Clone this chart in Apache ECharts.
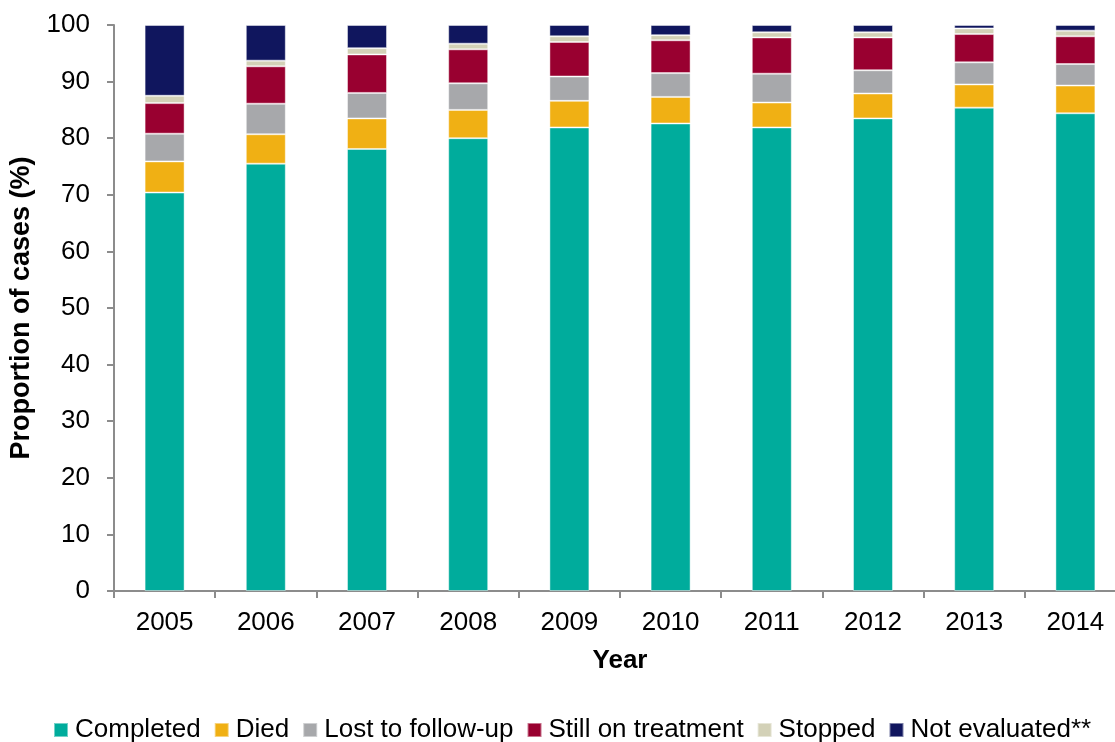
<!DOCTYPE html>
<html>
<head>
<meta charset="utf-8">
<script src="https://cdn.jsdelivr.net/npm/echarts@6/dist/echarts.min.js"></script>
<style>html,body{margin:0;padding:0;background:#fff;}#c{width:1115px;height:742px;}</style>
</head>
<body>
<div id="c"></div>
<script>
var years = ['2005','2006','2007','2008','2009','2010','2011','2012','2013','2014'];
var completed = [70.4, 75.5, 78.1, 80.0, 81.9, 82.6, 81.9, 83.5, 85.4, 84.4];
var died = [5.5, 5.2, 5.4, 5.0, 4.7, 4.7, 4.4, 4.4, 4.1, 4.9];
var lost = [4.9, 5.4, 4.5, 4.7, 4.3, 4.2, 5.1, 4.1, 3.9, 3.8];
var still = [5.4, 6.6, 6.8, 6.0, 6.1, 5.8, 6.4, 5.8, 5.0, 4.9];
var stopped = [1.3, 1.0, 1.1, 1.0, 1.0, 0.9, 0.9, 0.9, 1.0, 1.0];
var notEvaluated = [12.5, 6.3, 4.1, 3.3, 2.0, 1.8, 1.3, 1.3, 0.6, 1.0];
var yTicks = [0, 10, 20, 30, 40, 50, 60, 70, 80, 90, 100];

var seriesDefs = [
  ['Completed', completed, '#00AC9C'],
  ['Died', died, '#F0B014'],
  ['Lost to follow-up', lost, '#A7A8AB'],
  ['Still on treatment', still, '#990030'],
  ['Stopped', stopped, '#D3D1B7'],
  ['Not evaluated**', notEvaluated, '#10165E']
];

var font = 'Liberation Sans, Arial, sans-serif';
var chart = echarts.init(document.getElementById('c'), null, {renderer: 'canvas'});
chart.setOption({
  animation: false,
  color: seriesDefs.map(function(s){return s[2];}),
  grid: {left: 114, right: -11, top: 25, bottom: 151, containLabel: false, outerBoundsMode: 'none'},
  legend: {
    left: 48, top: 712,
    itemWidth: 14, itemHeight: 14, itemGap: 13,
    icon: 'rect',
    textStyle: {fontFamily: font, fontSize: 26, color: '#000', padding: [0, 0, 0, 2]},
    data: seriesDefs.map(function(s){return s[0];})
  },
  xAxis: {
    type: 'category',
    data: years,
    name: 'Year',
    nameLocation: 'middle',
    nameGap: 57,
    nameTextStyle: {fontFamily: font, fontSize: 26, fontWeight: 'bold', color: '#000'},
    axisLine: {lineStyle: {color: '#8c8c8c', width: 2}},
    axisTick: {show: true, length: 7, lineStyle: {color: '#8c8c8c', width: 2}},
    axisLabel: {fontFamily: font, fontSize: 26, color: '#000', margin: 19},
    splitLine: {show: false}
  },
  yAxis: {
    type: 'value',
    min: 0, max: 100, interval: 10,
    name: 'Proportion of cases (%)',
    nameLocation: 'middle',
    nameGap: 79,
    nameRotate: 90,
    nameTextStyle: {fontFamily: font, fontSize: 27, fontWeight: 'bold', color: '#000'},
    axisLine: {show: true, lineStyle: {color: '#8c8c8c', width: 2}},
    axisTick: {show: true, length: 7, lineStyle: {color: '#8c8c8c', width: 2}},
    axisLabel: {fontFamily: font, fontSize: 26, color: '#000', margin: 24,
      formatter: function(v){ return yTicks.indexOf(v) >= 0 ? String(v) : ''; }},
    splitLine: {show: false}
  },
  series: seriesDefs.map(function(s){
    return {
      name: s[0], type: 'bar', stack: 'total', data: s[1],
      barWidth: 40,
      itemStyle: {color: s[2], borderColor: 'rgba(255,255,255,0.45)', borderWidth: 1}
    };
  })
});
</script>
</body>
</html>
